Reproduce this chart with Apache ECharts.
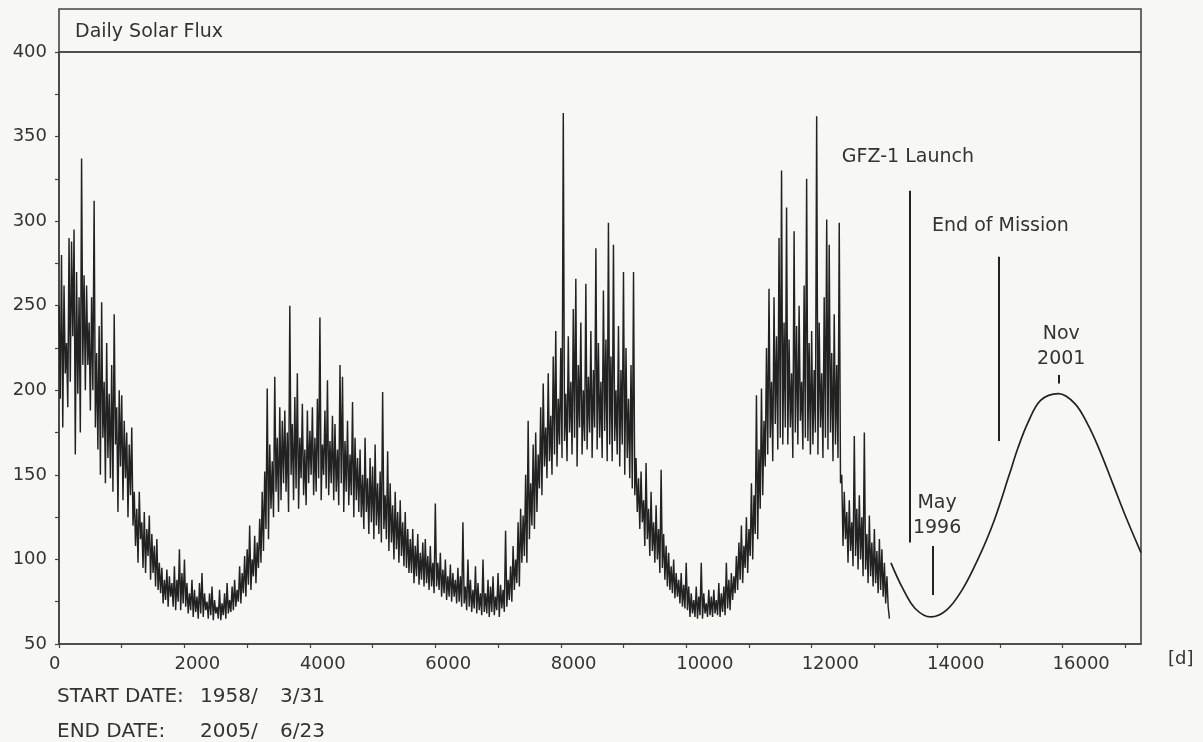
<!DOCTYPE html>
<html>
<head>
<meta charset="utf-8">
<script src="https://cdn.jsdelivr.net/npm/echarts/dist/echarts.min.js"></script>
<style>
  html, body { margin: 0; padding: 0; background: #f7f7f4; }
  #chart { width: 1203px; height: 742px; }
</style>
</head>
<body>
<div id="chart"></div>
<script>
// Daily 10.7 cm solar flux, one reading every STEP_DAYS days from the start date
const STEP_DAYS = 20;

// Cycle 19 decline and the 1964 minimum (day 0 .. 3180), 20 readings per row
const fluxCycle19 = [
  250, 195, 280, 178, 262, 210, 228, 190, 290, 205, 288, 232, 295, 162, 270, 198, 255, 175, 337, 215,
  268, 200, 262, 215, 240, 188, 255, 200, 312, 178, 222, 165, 238, 150, 252, 172, 205, 145, 228, 160,
  198, 148, 215, 140, 245, 168, 190, 128, 200, 155, 197, 135, 182, 148, 175, 125, 168, 138, 178, 120,
  140, 108, 130, 98, 140, 112, 122, 95, 128, 92, 118, 102, 126, 88, 115, 92, 108, 84, 112, 82,
  98, 80, 95, 74, 88, 76, 94, 72, 90, 78, 86, 72, 96, 70, 88, 75, 106, 70, 92, 74,
  100, 72, 86, 68, 80, 70, 88, 66, 82, 69, 78, 65, 86, 68, 92, 66, 80, 70, 75, 65,
  80, 67, 84, 64, 76, 68, 72, 65, 82, 64, 74, 67, 80, 65, 86, 68, 76, 69, 84, 70,
  88, 72, 82, 75, 96, 74, 92, 80, 102, 78, 106, 85, 120, 82, 100, 90, 114, 86, 110, 95
];
// Cycle 20 (day 3200 .. 7180)
const fluxCycle20 = [
  124, 98, 140, 105, 152, 118, 201, 112, 168, 130, 158, 125, 208, 140, 172, 128, 190, 135, 182, 145,
  188, 140, 175, 128, 250, 150, 180, 135, 196, 142, 210, 130, 172, 148, 192, 138, 165, 132, 188, 145,
  176, 150, 190, 138, 172, 140, 195, 148, 243, 135, 168, 150, 188, 142, 206, 138, 170, 145, 185, 135,
  180, 140, 165, 132, 215, 145, 208, 128, 170, 140, 182, 132, 162, 138, 193, 125, 172, 135, 160, 128,
  165, 125, 150, 118, 172, 128, 148, 115, 160, 122, 155, 112, 168, 120, 145, 115, 152, 110, 199, 118,
  138, 112, 164, 105, 145, 110, 132, 100, 140, 106, 128, 98, 135, 102, 122, 96, 128, 95, 118, 92,
  112, 92, 118, 86, 108, 90, 115, 85, 104, 88, 110, 84, 112, 86, 102, 82, 108, 84, 98, 80,
  133, 84, 98, 82, 104, 78, 94, 80, 100, 76, 90, 78, 97, 75, 92, 78, 88, 74, 95, 75,
  90, 72, 122, 74, 84, 70, 100, 72, 88, 69, 82, 71, 96, 68, 86, 70, 80, 67, 100, 69,
  80, 68, 88, 66, 84, 69, 90, 67, 78, 70, 92, 66, 85, 71, 82, 69, 117, 72, 88, 76
];
// Cycle 21 (day 7200 .. 10780)
const fluxCycle21 = [
  96, 75, 108, 82, 100, 86, 122, 84, 130, 98, 126, 102, 150, 98, 182, 112, 145, 120, 168, 118,
  175, 128, 162, 142, 190, 138, 204, 155, 178, 148, 210, 158, 185, 150, 220, 162, 235, 155, 195, 168,
  225, 160, 364, 170, 198, 158, 232, 175, 205, 162, 248, 172, 266, 155, 215, 178, 240, 162, 200, 170,
  263, 165, 208, 175, 235, 160, 212, 178, 284, 165, 228, 172, 205, 160, 259, 176, 230, 158, 299, 168,
  220, 158, 286, 170, 200, 162, 238, 155, 212, 168, 270, 150, 225, 160, 195, 148, 215, 142, 270, 138,
  160, 128, 148, 118, 152, 122, 135, 108, 157, 112, 130, 102, 140, 105, 122, 98, 132, 100, 118, 92,
  153, 95, 115, 88, 108, 84, 104, 82, 96, 80, 100, 77, 92, 78, 88, 74, 92, 72, 85, 71,
  98, 70, 84, 66, 80, 68, 76, 66, 84, 65, 78, 67, 98, 65, 80, 68, 74, 66, 82, 67,
  78, 66, 82, 68, 76, 67, 86, 66, 80, 69, 84, 67, 98, 71, 88, 70, 92, 76, 90, 80
];
// Cycle 22 up to the last measured day (day 10800 .. 13240)
const fluxCycle22 = [
  102, 82, 110, 88, 120, 86, 108, 95, 125, 92, 118, 102, 145, 100, 138, 115, 197, 112, 165, 130,
  201, 138, 182, 155, 225, 162, 260, 172, 205, 158, 255, 180, 232, 165, 290, 172, 330, 168, 240, 178,
  308, 168, 230, 178, 210, 160, 294, 175, 238, 168, 250, 182, 205, 165, 262, 172, 325, 170, 228, 162,
  235, 168, 212, 175, 362, 162, 240, 178, 210, 160, 255, 172, 301, 165, 286, 175, 222, 158, 245, 168,
  215, 160, 299, 145, 150, 108, 140, 112, 128, 98, 135, 105, 122, 96, 173, 102, 130, 94, 138, 100,
  125, 90, 175, 94, 115, 86, 126, 90, 110, 84, 118, 86, 105, 80, 112, 82, 106, 78, 98, 74,
  90, 72, 65
];

// Predicted mean flux for cycle 23
const predDays = [13264, 13450, 13650, 13900, 14150, 14400, 14650, 14900, 15150, 15290,
                  15450, 15650, 15935, 16200, 16400, 16576, 16800, 17000, 17251];
const predFlux = [98, 83, 71, 66, 70, 82, 100, 122, 150, 166,
                  181, 194, 198, 192, 180, 166, 145, 126, 104];

// Event markers: [day, lower flux, upper flux]
const eventLines = [
  [13560, 110, 318],   // GFZ-1 launch
  [14985, 170, 279],   // end of mission
  [13930, 79, 108],    // May 1996 minimum
  [15940, 204, 209]    // Nov 2001 maximum
];
// Event captions: [text, day, flux]
const eventLabels = [
  ['GFZ-1 Launch', 13535, 338],
  ['End of Mission', 15010, 297],
  ['May\n1996', 14000, 126],
  ['Nov\n2001', 15980, 226]
];

const xTickLabels = [0, 2000, 4000, 6000, 8000, 10000, 12000, 14000, 16000];
const yTickLabels = [50, 100, 150, 200, 250, 300, 350, 400];
const DAY_MAX = 17251;

const measured = fluxCycle19.concat(fluxCycle20, fluxCycle21, fluxCycle22)
  .map((v, i) => [i * STEP_DAYS, v]);
const predicted = predDays.map((d, i) => [d, predFlux[i]]);

const ink = '#222222';
const textInk = '#333333';
const font = 'DejaVu Sans';
const footFont = '20px "DejaVu Sans"';

const chart = echarts.init(document.getElementById('chart'), null, { renderer: 'canvas' });

chart.setOption({
  backgroundColor: '#f7f7f4',
  animation: false,
  grid: { left: 59, right: 62, top: 52, bottom: 98, show: true, borderColor: '#444', borderWidth: 1.6 },
  xAxis: {
    type: 'value', min: 0, max: DAY_MAX, interval: 1000,
    name: '[d]', nameLocation: 'end', nameGap: 27,
    nameTextStyle: { fontFamily: font, fontSize: 18, color: textInk, align: 'left', verticalAlign: 'top', padding: [6, 0, 0, 0] },
    axisLine: { lineStyle: { color: '#444', width: 1.6 } },
    axisTick: { length: 4, lineStyle: { color: '#444', width: 1.2 } },
    splitLine: { show: false },
    axisLabel: {
      fontFamily: font, fontSize: 18, color: textInk, margin: 11,
      align: 'left', padding: [0, 0, 0, -10], showMaxLabel: false,
      formatter: v => xTickLabels.indexOf(v) >= 0 ? String(v) : ''
    }
  },
  yAxis: {
    type: 'value', min: 50, max: 400, interval: 25,
    axisLine: { show: true, lineStyle: { color: '#444', width: 1.6 } },
    axisTick: { show: true, length: 4, lineStyle: { color: '#444', width: 1.2 } },
    splitLine: { show: false },
    axisLabel: {
      fontFamily: font, fontSize: 18, color: textInk, margin: 12,
      formatter: v => yTickLabels.indexOf(v) >= 0 ? String(v) : ''
    }
  },
  graphic: [
    { type: 'rect', shape: { x: 59, y: 9, width: 1082, height: 43 }, style: { fill: 'none', stroke: '#444', lineWidth: 1.6 }, silent: true },
    { type: 'text', x: 75, y: 32, style: { text: 'Daily Solar Flux', font: '19px "DejaVu Sans"', fill: textInk, verticalAlign: 'middle' } },
    { type: 'text', x: 57, y: 697, style: { text: 'START DATE:', font: footFont, fill: textInk, verticalAlign: 'middle' } },
    { type: 'text', x: 200, y: 697, style: { text: '1958/', font: footFont, fill: textInk, verticalAlign: 'middle' } },
    { type: 'text', x: 280, y: 697, style: { text: '3/31', font: footFont, fill: textInk, verticalAlign: 'middle' } },
    { type: 'text', x: 57, y: 732, style: { text: 'END DATE:', font: footFont, fill: textInk, verticalAlign: 'middle' } },
    { type: 'text', x: 200, y: 732, style: { text: '2005/', font: footFont, fill: textInk, verticalAlign: 'middle' } },
    { type: 'text', x: 280, y: 732, style: { text: '6/23', font: footFont, fill: textInk, verticalAlign: 'middle' } }
  ],
  series: [
    {
      type: 'line', data: measured, showSymbol: false, symbol: 'none',
      lineStyle: { color: ink, width: 1.45 }, z: 3
    },
    {
      type: 'line', data: predicted, showSymbol: false, symbol: 'none', smooth: 0.35,
      lineStyle: { color: ink, width: 1.7 }, z: 3,
      markLine: {
        silent: true, symbol: ['none', 'none'], animation: false,
        label: { show: false },
        lineStyle: { color: ink, width: 2, type: 'solid' },
        data: eventLines.map(e => [{ coord: [e[0], e[1]] }, { coord: [e[0], e[2]] }])
      }
    },
    {
      type: 'scatter', symbolSize: 0, silent: true, z: 4,
      itemStyle: { opacity: 1 },
      data: eventLabels.map(e => ({ value: [e[1], e[2]], name: e[0] })),
      label: {
        show: true, position: 'inside', formatter: p => p.name,
        fontFamily: font, fontSize: 19, color: textInk, lineHeight: 25, align: 'center'
      }
    }
  ]
});
</script>
</body>
</html>
